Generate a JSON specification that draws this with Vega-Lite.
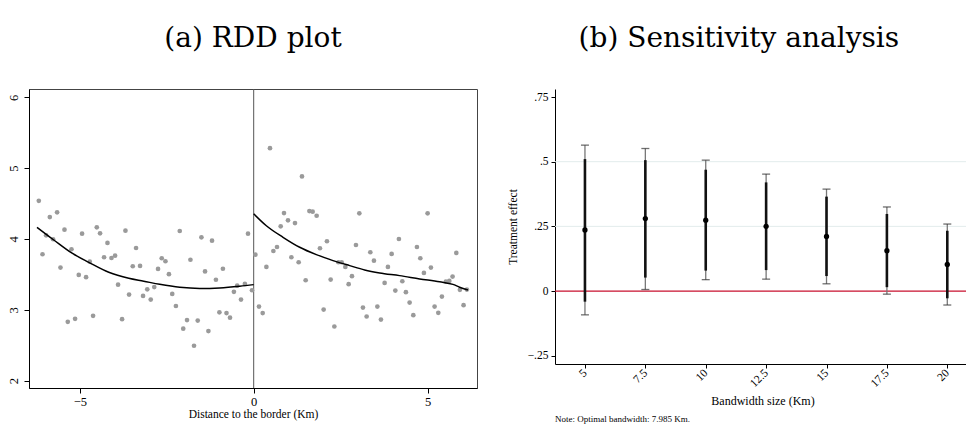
{
  "$schema": "https://vega.github.io/schema/vega-lite/v6.json",
  "background": "white",
  "padding": {"left": 6, "top": 24, "right": 0, "bottom": 0},
  "spacing": 29,
  "config": {
    "font": "Liberation Serif",
    "view": {"stroke": null},
    "title": {"font": "DejaVu Serif", "fontSize": 28, "fontWeight": "normal", "color": "#000"},
    "axis": {"labelFont": "Liberation Serif", "titleFont": "Liberation Serif", "labelColor": "#000", "titleColor": "#000", "domainColor": "#000", "tickColor": "#000", "titleFontWeight": "normal", "grid": false}
  },
  "hconcat": [
    {
      "title": {"text": "(a) RDD plot", "offset": 36, "anchor": "middle"},
      "width": 448,
      "height": 299,
      "view": {"stroke": "#444", "strokeWidth": 1},
      "layer": [
        {
          "data": {"values": [{"cut": 0}]},
          "mark": {"type": "rule", "color": "#555", "strokeWidth": 1},
          "encoding": {
            "x": {"field": "cut", "type": "quantitative", "scale": {"domain": [-6.46, 6.42], "nice": false, "zero": false},
              "axis": {"values": [-5, 0, 5], "labelExpr": "format(datum.value, '~g')", "labelFont": "Liberation Serif", "labelFontSize": 12.5, "tickSize": 5, "labelPadding": 2, "title": "Distance to the border (Km)", "titleFont": "Liberation Serif", "titleFontSize": 11.5, "titlePadding": 1}}
          }
        },
        {
          "data": {"values": [
            {"d":-6.178,"y":4.539},{"d":-6.072,"y":3.785},{"d":-5.968,"y":4.052},{"d":-5.862,"y":4.310},{"d":-5.767,"y":3.996},{"d":-5.652,"y":4.376},{"d":-5.555,"y":3.596},{"d":-5.440,"y":4.131},{"d":-5.345,"y":2.831},{"d":-5.239,"y":3.855},
            {"d":-5.135,"y":2.873},{"d":-5.029,"y":3.493},{"d":-4.934,"y":4.075},{"d":-4.819,"y":3.461},{"d":-4.713,"y":3.680},{"d":-4.618,"y":2.915},{"d":-4.511,"y":4.165},{"d":-4.417,"y":4.080},{"d":-4.302,"y":3.742},{"d":-4.204,"y":3.944},
            {"d":-4.089,"y":3.732},{"d":-3.986,"y":3.765},{"d":-3.899,"y":3.356},{"d":-3.784,"y":2.869},{"d":-3.687,"y":4.117},{"d":-3.583,"y":3.215},{"d":-3.477,"y":3.615},{"d":-3.382,"y":3.873},{"d":-3.267,"y":3.620},{"d":-3.181,"y":3.197},
            {"d":-3.060,"y":3.289},{"d":-2.960,"y":3.145},{"d":-2.859,"y":3.321},{"d":-2.750,"y":3.577},{"d":-2.644,"y":3.728},{"d":-2.537,"y":3.686},{"d":-2.437,"y":3.503},{"d":-2.342,"y":3.225},{"d":-2.236,"y":3.054},{"d":-2.126,"y":4.113},
            {"d":-2.026,"y":2.735},{"d":-1.917,"y":2.855},{"d":-1.819,"y":3.707},{"d":-1.716,"y":2.493},{"d":-1.609,"y":2.848},{"d":-1.503,"y":4.024},{"d":-1.399,"y":3.542},{"d":-1.302,"y":2.700},{"d":-1.198,"y":3.976},{"d":-1.086,"y":3.425},
            {"d":-0.986,"y":2.965},{"d":-0.885,"y":3.580},{"d":-0.782,"y":2.954},{"d":-0.681,"y":2.890},{"d":-0.569,"y":3.254},{"d":-0.474,"y":3.341},{"d":-0.365,"y":3.145},{"d":-0.253,"y":3.366},{"d":-0.164,"y":4.075},{"d":-0.049,"y":3.277},
            {"d":0.049,"y":3.779},{"d":0.152,"y":3.046},{"d":0.259,"y":2.954},{"d":0.365,"y":3.606},{"d":0.468,"y":5.282},{"d":0.566,"y":3.831},{"d":0.670,"y":3.887},{"d":0.776,"y":4.179},{"d":0.871,"y":4.366},{"d":0.986,"y":4.263},
            {"d":1.083,"y":3.742},{"d":1.187,"y":4.225},{"d":1.293,"y":3.672},{"d":1.388,"y":4.883},{"d":1.494,"y":3.418},{"d":1.601,"y":4.394},{"d":1.695,"y":4.385},{"d":1.810,"y":4.328},{"d":1.905,"y":3.869},{"d":2.011,"y":3.004},
            {"d":2.106,"y":3.968},{"d":2.213,"y":3.427},{"d":2.319,"y":2.765},{"d":2.434,"y":3.672},{"d":2.529,"y":3.672},{"d":2.635,"y":3.606},{"d":2.730,"y":3.362},{"d":2.825,"y":3.475},{"d":2.940,"y":3.915},{"d":3.037,"y":4.362},
            {"d":3.141,"y":3.032},{"d":3.247,"y":2.906},{"d":3.353,"y":3.813},{"d":3.457,"y":3.694},{"d":3.555,"y":3.046},{"d":3.658,"y":2.863},{"d":3.764,"y":3.380},{"d":3.859,"y":3.606},{"d":3.966,"y":3.789},{"d":4.072,"y":3.272},
            {"d":4.175,"y":4.000},{"d":4.273,"y":3.404},{"d":4.376,"y":3.249},{"d":4.483,"y":3.103},{"d":4.589,"y":2.925},{"d":4.693,"y":3.887},{"d":4.790,"y":3.728},{"d":4.894,"y":3.521},{"d":5.000,"y":4.362},{"d":5.095,"y":3.596},
            {"d":5.201,"y":3.046},{"d":5.307,"y":2.958},{"d":5.411,"y":3.187},{"d":5.526,"y":3.399},{"d":5.624,"y":3.408},{"d":5.718,"y":3.469},{"d":5.825,"y":3.803},{"d":5.928,"y":3.282},{"d":6.034,"y":3.066},{"d":6.129,"y":3.286}
          ]},
          "mark": {"type": "circle", "color": "#9a9a9a", "opacity": 1, "size": 22},
          "encoding": {
            "x": {"field": "d", "type": "quantitative"},
            "y": {"field": "y", "type": "quantitative", "scale": {"domain": [1.897, 6.117], "nice": false, "zero": false},
              "axis": {"values": [2, 3, 4, 5, 6], "labelExpr": "format(datum.value, '~g')", "labelFont": "Liberation Serif", "labelAngle": -90, "labelAlign": "center", "labelBaseline": "bottom", "labelFontSize": 12.5, "tickSize": 5, "labelPadding": 4, "title": null}}
          }
        },
        {
          "data": {"values": [
            {"d":-6.23,"fit":4.165,"side":"left"},{"d":-5.747,"fit":3.986,"side":"left"},{"d":-5.221,"fit":3.799,"side":"left"},{"d":-4.741,"fit":3.671,"side":"left"},{"d":-4.167,"fit":3.531,"side":"left"},{"d":-3.592,"fit":3.446,"side":"left"},{"d":-3.161,"fit":3.405,"side":"left"},{"d":-2.701,"fit":3.36,"side":"left"},{"d":-2.126,"fit":3.318,"side":"left"},{"d":-1.552,"fit":3.302,"side":"left"},{"d":-0.977,"fit":3.31,"side":"left"},{"d":-0.402,"fit":3.334,"side":"left"},{"d":0,"fit":3.356,"side":"left"},
            {"d":0,"fit":4.356,"side":"right"},{"d":0.364,"fit":4.187,"side":"right"},{"d":0.843,"fit":4.024,"side":"right"},{"d":1.322,"fit":3.883,"side":"right"},{"d":1.801,"fit":3.779,"side":"right"},{"d":2.28,"fit":3.695,"side":"right"},{"d":2.759,"fit":3.624,"side":"right"},{"d":3.19,"fit":3.563,"side":"right"},{"d":3.621,"fit":3.521,"side":"right"},{"d":4.195,"fit":3.483,"side":"right"},{"d":4.77,"fit":3.437,"side":"right"},{"d":5.345,"fit":3.395,"side":"right"},{"d":5.728,"fit":3.36,"side":"right"},{"d":5.92,"fit":3.32,"side":"right"},{"d":6.159,"fit":3.28,"side":"right"}
          ]},
          "mark": {"type": "line", "color": "#000", "strokeWidth": 1.5, "interpolate": "monotone"},
          "encoding": {
            "x": {"field": "d", "type": "quantitative"},
            "y": {"field": "fit", "type": "quantitative"},
            "detail": {"field": "side", "type": "nominal"}
          }
        }
      ]
    },
    {
      "title": {"text": "(b) Sensitivity analysis", "offset": 36, "anchor": "middle"},
      "vconcat": [
        {
          "title": {"text": "Note: Optimal bandwidth: 7.985 Km.", "orient": "bottom", "anchor": "start", "frame": "group", "font": "Liberation Serif", "fontSize": 9, "offset": 9},
          "width": 415,
          "height": 275,
          "layer": [
            {
              "data": {"values": [{"g": 0.25}, {"g": 0.5}]},
              "mark": {"type": "rule", "color": "#e2ecec", "strokeWidth": 1},
              "encoding": {
                "y": {"field": "g", "type": "quantitative", "scale": {"domain": [-0.282, 0.781], "nice": false, "zero": false},
                  "axis": {"values": [-0.25, 0, 0.25, 0.5, 0.75], "labelExpr": "replace(format(datum.value, '~g'), '0.', '.')", "labelFont": "Liberation Serif", "labelFontSize": 11.5, "tickSize": 4, "labelPadding": 3, "title": "Treatment effect", "titleFont": "Liberation Serif", "titleFontSize": 11.5, "titlePadding": 9}}
              }
            },
            {
              "data": {"values": [{"z": 0}]},
              "mark": {"type": "rule", "color": "#c8102e", "strokeWidth": 1.2},
              "encoding": {"y": {"field": "z", "type": "quantitative"}}
            },
            {
              "data": {"values": [
                {"bw":5,"est":0.236,"lo90":-0.041,"hi90":0.510,"lo95":-0.092,"hi95":0.564},
                {"bw":7.5,"est":0.280,"lo90":0.052,"hi90":0.506,"lo95":0.006,"hi95":0.551},
                {"bw":10,"est":0.274,"lo90":0.079,"hi90":0.469,"lo95":0.044,"hi95":0.506},
                {"bw":12.5,"est":0.250,"lo90":0.081,"hi90":0.420,"lo95":0.046,"hi95":0.452},
                {"bw":15,"est":0.211,"lo90":0.058,"hi90":0.365,"lo95":0.028,"hi95":0.394},
                {"bw":17.5,"est":0.156,"lo90":0.015,"hi90":0.298,"lo95":-0.012,"hi95":0.325},
                {"bw":20,"est":0.103,"lo90":-0.028,"hi90":0.233,"lo95":-0.054,"hi95":0.259}
              ]},
              "encoding": {
                "x": {"field": "bw", "type": "quantitative", "scale": {"domain": [3.76, 20.94], "nice": false, "zero": false},
                  "axis": {"values": [5, 7.5, 10, 12.5, 15, 17.5, 20], "labelExpr": "format(datum.value, '~g')", "labelFont": "Liberation Serif", "labelAngle": -45, "labelAlign": "right", "labelBaseline": "middle", "labelFontSize": 11.5, "tickSize": 4, "labelPadding": 3, "title": "Bandwidth size (Km)", "titleFont": "Liberation Serif", "titleFontSize": 12, "titlePadding": 6}}
              },
              "layer": [
                {"mark": {"type": "rule", "color": "#777", "strokeWidth": 1.3}, "encoding": {"y": {"field": "lo95", "type": "quantitative"}, "y2": {"field": "hi95"}}},
                {"mark": {"type": "tick", "orient": "horizontal", "size": 8, "thickness": 1.3, "color": "#333"}, "encoding": {"y": {"field": "lo95", "type": "quantitative"}}},
                {"mark": {"type": "tick", "orient": "horizontal", "size": 8, "thickness": 1.3, "color": "#333"}, "encoding": {"y": {"field": "hi95", "type": "quantitative"}}},
                {"mark": {"type": "rule", "color": "#111", "strokeWidth": 2.6}, "encoding": {"y": {"field": "lo90", "type": "quantitative"}, "y2": {"field": "hi90"}}},
                {"mark": {"type": "circle", "color": "#000", "opacity": 1, "size": 28}, "encoding": {"y": {"field": "est", "type": "quantitative"}}}
              ]
            }
          ]
        }
      ]
    }
  ]
}
